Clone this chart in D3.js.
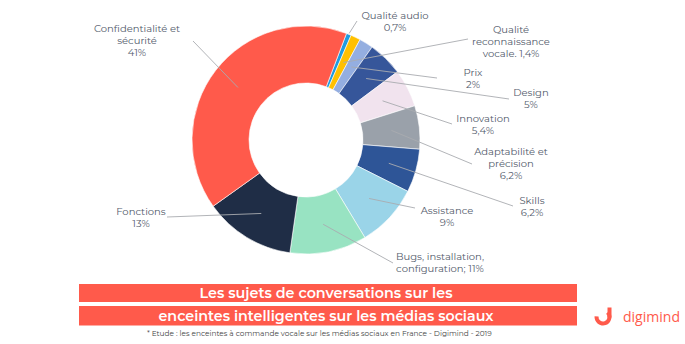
<!DOCTYPE html>
<html><head><meta charset="utf-8">
<script src="https://cdn.jsdelivr.net/npm/d3@7"></script>
<style>
html,body{margin:0;padding:0;background:#fff;}
svg{display:block;}
</style></head>
<body>
<svg id="chart" width="685" height="344"></svg>
<script>
// ---- data ----
const categories = ["Qualité audio", "Qualité reconnaissance vocale", "Prix", "Design", "Innovation",
  "Adaptabilité et précision", "Skills", "Assistance", "Bugs, installation, configuration", "Fonctions",
  "Confidentialité et sécurité"];
const values = [0.7, 1.4, 2, 5, 5.4, 6.2, 6.2, 9, 11, 13, 41];
const labelLines = [
  ["Qualité audio", "0,7%"],
  ["Qualité", "reconnaissance", "vocale. 1,4%"],
  ["Prix", "2%"],
  ["Design", "5%"],
  ["Innovation", "5,4%"],
  ["Adaptabilité et", "précision", "6,2%"],
  ["Skills", "6,2%"],
  ["Assistance", "9%"],
  ["Bugs, installation,", "configuration; 11%"],
  ["Fonctions", "13%"],
  ["Confidentialité et", "sécurité", "41%"]
];
const titleLines = ["Les sujets de conversations sur les", "enceintes intelligentes sur les médias sociaux"];
const footnote = "*  Etude : les enceintes à commande vocale sur les médias sociaux en France - Digimind - 2019";

// ---- styles / layout ----
const colors = ["#1f9be0", "#ffc000", "#94aee0", "#36569a", "#f1e3ee", "#9aa1aa", "#2e5597",
  "#9ad4e8", "#98e3c2", "#1f2d46", "#ff5a4b"];
// label text centre x, first-line centre y, leader start point, leader end radius
const labelLayout = [
  {x: 395, y: 15, lx: 357, ly: 21, r: 115},
  {x: 511, y: 29, lx: 468, ly: 39, r: 86},
  {x: 473, y: 72, lx: 437, ly: 78, r: 86},
  {x: 531, y: 92, lx: 509, ly: 99, r: 86},
  {x: 483, y: 118, lx: 452, ly: 124, r: 86},
  {x: 511, y: 151.5, lx: 472, ly: 164, r: 86},
  {x: 532, y: 200, lx: 513, ly: 206, r: 86},
  {x: 447, y: 210, lx: 415, ly: 208, r: 86},
  {x: 440, y: 256.5, lx: 393, ly: 263, r: 86},
  {x: 141, y: 211.5, lx: 167, ly: 217, r: 86},
  {x: 137, y: 28.3, lx: 193, ly: 41, r: 86}
];
const cx = 306, cy = 140, rOuter = 114, rInner = 57;
const start = 0.363;
const labelFont = "Montserrat, 'Open Sans', 'DejaVu Sans', sans-serif";
const textColor = "#525a6b";

const svg = d3.select("#chart");
const g = svg.append("g").attr("transform", `translate(${cx},${cy})`);

const pie = d3.pie().sort(null).value(d => d).startAngle(start).endAngle(start + 2 * Math.PI);
const arcs = pie(values);
const arc = d3.arc().innerRadius(rInner).outerRadius(rOuter);

g.selectAll("path.slice").data(arcs).join("path")
  .attr("class", "slice")
  .attr("d", arc)
  .attr("fill", (d, i) => colors[i])
  .attr("stroke", "#fff").attr("stroke-width", 0.6);

// leader lines
const leaders = svg.append("g");
arcs.forEach((d, i) => {
  const L = labelLayout[i];
  const a = (d.startAngle + d.endAngle) / 2;
  const ex = cx + L.r * Math.sin(a), ey = cy - L.r * Math.cos(a);
  leaders.append("line")
    .attr("x1", L.lx).attr("y1", L.ly).attr("x2", ex).attr("y2", ey)
    .attr("stroke", "#a9abb0").attr("stroke-width", 0.9);
});

// labels
const lh = 12;
const labels = svg.append("g").attr("font-family", labelFont).attr("font-size", 10)
  .attr("fill", textColor).attr("text-anchor", "middle");
labelLines.forEach((lines, i) => {
  const L = labelLayout[i];
  const t = labels.append("text");
  lines.forEach((s, k) => {
    t.append("tspan").attr("x", L.x).attr("y", L.y + k * lh + 3.6).text(s);
  });
});

// title banners
const bx = 79, bw = 498;
const bannerY = [284, 306], bannerH = [18, 19.5];
const titleWidths = [253, 335];
titleLines.forEach((s, i) => {
  svg.append("rect").attr("x", bx).attr("y", bannerY[i]).attr("width", bw).attr("height", bannerH[i])
    .attr("fill", "#ff5a4b");
  svg.append("text").attr("x", bx + bw / 2 - 2).attr("y", bannerY[i] + bannerH[i] / 2 + 5.3)
    .attr("text-anchor", "middle").attr("fill", "#fff")
    .attr("font-family", labelFont).attr("font-weight", 600).attr("font-size", 14.8)
    .attr("textLength", titleWidths[i]).attr("lengthAdjust", "spacingAndGlyphs")
    .text(s);
});

svg.append("text").attr("x", 147).attr("y", 336)
  .attr("font-family", labelFont).attr("font-size", 7.4).attr("fill", "#444")
  .text(footnote);

// logo
const logo = svg.append("g").attr("transform", "translate(603,317)");
logo.append("path")
  .attr("d", d3.arc().innerRadius(4.5).outerRadius(8.5).startAngle(-Math.PI * 0.75).endAngle(Math.PI * 0.5 + 0.1)())
  .attr("fill", "#ff5a4b").attr("transform", "rotate(180)");
logo.append("rect").attr("x", 4.5).attr("y", -9.5).attr("width", 4).attr("height", 10).attr("fill", "#ff5a4b");
svg.append("text").attr("x", 623).attr("y", 321.5)
  .attr("font-family", "'Open Sans', sans-serif").attr("font-size", 15).attr("fill", "#ff5a4b")
  .attr("textLength", 57).attr("lengthAdjust", "spacingAndGlyphs")
  .text("digimind");
</script>
</body></html>
